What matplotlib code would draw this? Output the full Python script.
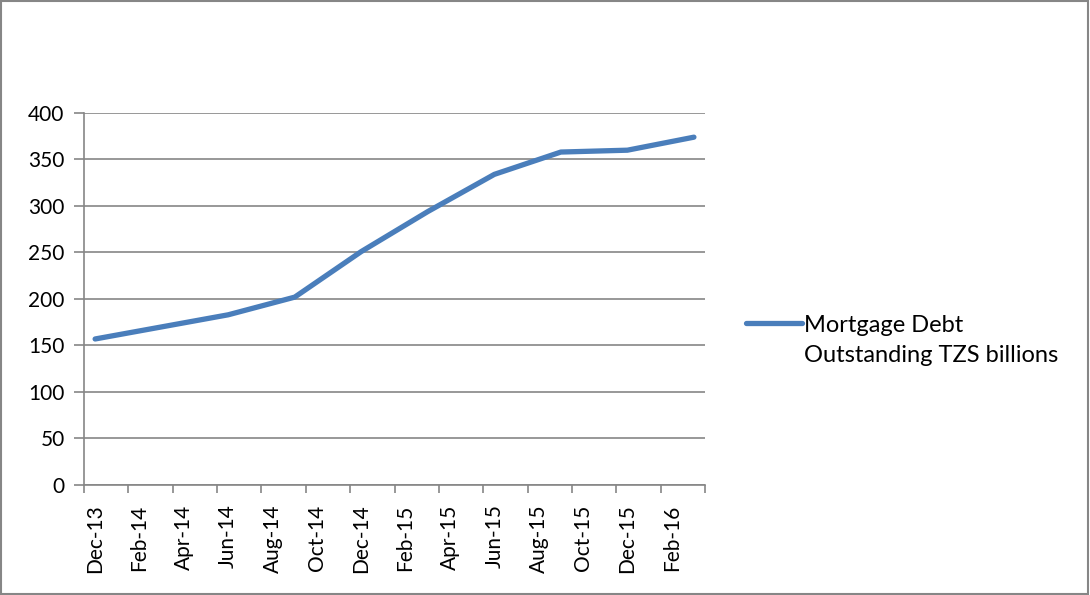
import numpy as np
import matplotlib.pyplot as plt
from matplotlib.patches import Rectangle

plt.rcParams['font.family'] = ['Lato', 'DejaVu Sans']

# quarterly observations, month offset from Dec-13
months = [0, 3, 6, 9, 12, 15, 18, 21, 24, 27]
debt = [157, 170, 183, 202, 251, 294, 334, 358, 360, 374]
tick_labels = ['Dec-13', 'Feb-14', 'Apr-14', 'Jun-14', 'Aug-14', 'Oct-14', 'Dec-14',
               'Feb-15', 'Apr-15', 'Jun-15', 'Aug-15', 'Oct-15', 'Dec-15', 'Feb-16']
series_name = 'Mortgage Debt\nOutstanding TZS billions'

fig = plt.figure(figsize=(10.9, 5.95), dpi=100)
ax = fig.add_axes([0.0771, 0.1849, 0.5697, 0.6252])

grid_c = '#868686'
x = np.array(months) + 0.5
ax.plot(x, debt, color='#4A7EBB', lw=3.8, solid_capstyle='round', solid_joinstyle='round',
        label=series_name, zorder=3)

ax.set_xlim(0, 28)
ax.set_ylim(0, 400)
ax.set_yticks(np.arange(0, 401, 50))
ax.yaxis.grid(True, color=grid_c, lw=1.2)
ax.set_axisbelow(True)

ax.set_xticks(np.arange(0, 29, 2))
ax.set_xticklabels([])
ax.set_xticks(np.arange(0, 28, 2) + 0.5, minor=True)
ax.set_xticklabels(tick_labels, minor=True, rotation=90)
ax.tick_params(axis='x', which='major', length=6, color=grid_c, width=1.2)
ax.tick_params(axis='x', which='minor', length=0, pad=14, labelsize=15)
ax.tick_params(axis='y', length=7, color=grid_c, width=1.2, labelsize=15, pad=7)

for s in ['top', 'right']:
    ax.spines[s].set_visible(False)
for s in ['left', 'bottom']:
    ax.spines[s].set_color(grid_c)
    ax.spines[s].set_linewidth(1.2)

leg = fig.legend(loc='center left', bbox_to_anchor=(0.665, 0.428), frameon=False,
                 fontsize=17, handlelength=2.35, handletextpad=0.12, labelspacing=0.25)
for t in leg.get_texts():
    t.set_linespacing(1.5)
# Excel puts the marker next to the first line of a wrapped label
h = leg.legend_handles[0]
h.set_ydata(np.asarray(h.get_ydata()) + 13)

fig.patches.append(Rectangle((0.001, 0.001), 0.997, 0.997, transform=fig.transFigure,
                             fill=False, edgecolor='#868686', lw=1.5))

fig.savefig('out.png', dpi=100)
